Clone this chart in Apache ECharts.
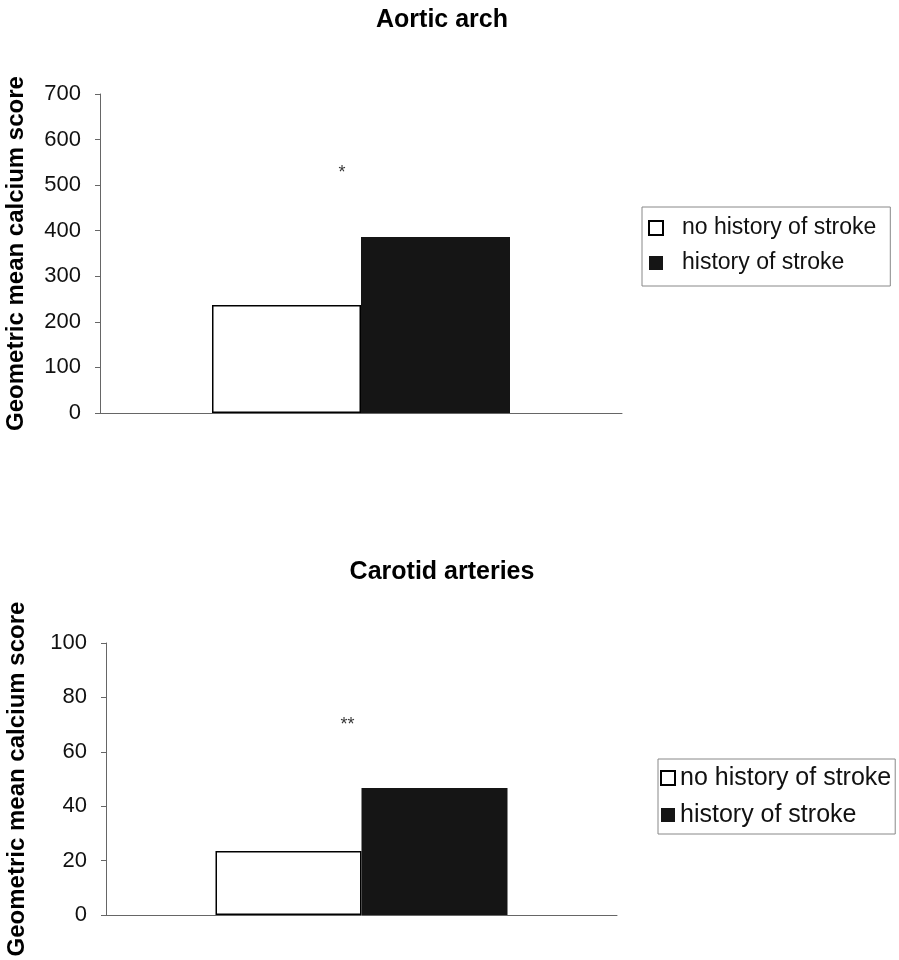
<!DOCTYPE html>
<html>
<head>
<meta charset="utf-8">
<title>Geometric mean calcium score by stroke history</title>
<script src="https://cdn.jsdelivr.net/npm/echarts@6/dist/echarts.min.js"></script>
<style>
  html, body { margin: 0; padding: 0; background: #fff; }
  #chart { width: 899px; height: 960px; }
</style>
</head>
<body>
<div id="chart"></div>
<script>
// Panel titles and series names
const panelTitles = ['Aortic arch', 'Carotid arteries'];
const seriesNames = ['no history of stroke', 'history of stroke'];
const yAxisName = 'Geometric mean calcium score';

// Geometric mean calcium scores per panel
const aorticNoStroke = [237];
const aorticStroke = [386];
const carotidNoStroke = [23.5];
const carotidStroke = [46.7];

// Significance markers (position on value axis, text)
const aorticMarkValue = [526];
const aorticMarkText = '*';
const carotidMarkValue = [70];
const carotidMarkText = '**';

// Axis ranges
const aorticAxis = { min: 0, max: 700, interval: 100 };
const carotidAxis = { min: 0, max: 100, interval: 20 };

const FONT = 'Liberation Sans, Arial, Helvetica, sans-serif';
const AXIS_COLOR = '#666';

function valueAxis(gridIndex, range, nameGap) {
  return {
    type: 'value',
    gridIndex,
    min: range.min,
    max: range.max,
    interval: range.interval,
    name: yAxisName,
    nameLocation: 'middle',
    nameRotate: 90,
    nameGap,
    nameTextStyle: { fontFamily: FONT, fontSize: 24, fontWeight: 'bold', color: '#000' },
    axisLine: { show: true, lineStyle: { color: AXIS_COLOR, width: 1 } },
    axisTick: { show: true, inside: false, length: 5, lineStyle: { color: AXIS_COLOR } },
    axisLabel: { fontFamily: FONT, fontSize: 22, color: '#111', margin: 19 },
    splitLine: { show: false }
  };
}

function categoryAxis(gridIndex) {
  return {
    type: 'category',
    gridIndex,
    data: [''],
    axisLine: { show: true, lineStyle: { color: AXIS_COLOR, width: 1 } },
    axisTick: { show: false },
    axisLabel: { show: false }
  };
}

function barPair(axisIndex, whiteVals, blackVals, width) {
  return [
    {
      name: seriesNames[0],
      type: 'bar',
      xAxisIndex: axisIndex,
      yAxisIndex: axisIndex,
      data: whiteVals,
      barWidth: width,
      barGap: '0%',
      itemStyle: { color: '#fff', borderColor: '#000', borderWidth: 1.5 },
      emphasis: { disabled: true }
    },
    {
      name: seriesNames[1],
      type: 'bar',
      xAxisIndex: axisIndex,
      yAxisIndex: axisIndex,
      data: blackVals,
      barWidth: width,
      barGap: '0%',
      itemStyle: { color: '#151515', borderWidth: 0 },
      emphasis: { disabled: true }
    }
  ];
}

function markSeries(axisIndex, vals, text, dx) {
  return {
    type: 'scatter',
    xAxisIndex: axisIndex,
    yAxisIndex: axisIndex,
    data: vals,
    symbolSize: 0,
    silent: true,
    label: {
      show: true,
      formatter: text,
      position: 'inside',
      offset: [dx, 0],
      fontFamily: FONT,
      fontSize: 18,
      color: '#000'
    }
  };
}

function legendBox(left, top, fontSize, textPad, itemGap, padding) {
  return {
    orient: 'vertical',
    left,
    top,
    data: seriesNames,
    icon: 'rect',
    itemWidth: 14,
    itemHeight: 14,
    itemGap,
    padding,
    borderColor: '#888',
    borderWidth: 1,
    selectedMode: false,
    textStyle: {
      fontFamily: FONT, fontSize, lineHeight: 26, color: '#111',
      padding: [0, 0, 0, textPad]
    }
  };
}

const chart = echarts.init(document.getElementById('chart'), null, { renderer: 'canvas' });

chart.setOption({
  backgroundColor: '#fff',
  animation: false,
  title: [
    { text: panelTitles[0], left: 437, top: 3, textAlign: 'center',
      textStyle: { fontFamily: FONT, fontSize: 25, fontWeight: 'bold', color: '#000' } },
    { text: panelTitles[1], left: 437, top: 555, textAlign: 'center',
      textStyle: { fontFamily: FONT, fontSize: 25, fontWeight: 'bold', color: '#000' } }
  ],
  legend: [
    legendBox(642, 207, 23, 14, 9, [8, 14, 10, 6]),
    legendBox(658, 759, 25, 0, 11, [6, 4, 6, 2])
  ],
  grid: [
    { left: 100, top: 94, width: 522, height: 319, outerBoundsMode: 'none' },
    { left: 106, top: 643, width: 511, height: 272, outerBoundsMode: 'none' }
  ],
  xAxis: [categoryAxis(0), categoryAxis(1)],
  yAxis: [valueAxis(0, aorticAxis, 72), valueAxis(1, carotidAxis, 77)],
  series: [
    ...barPair(0, aorticNoStroke, aorticStroke, 149),
    markSeries(0, aorticMarkValue, aorticMarkText, -19),
    ...barPair(1, carotidNoStroke, carotidStroke, 146),
    markSeries(1, carotidMarkValue, carotidMarkText, -14)
  ]
});
</script>
</body>
</html>
